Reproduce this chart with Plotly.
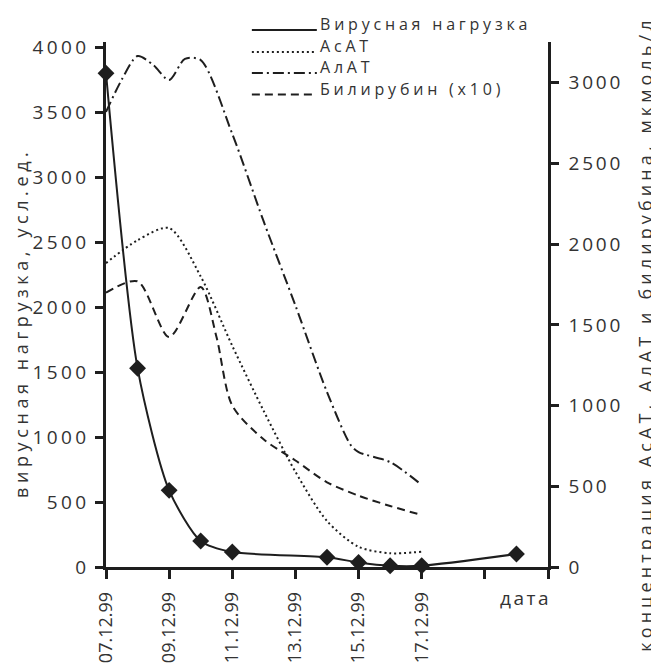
import plotly.graph_objects as go

# ---------------- data ----------------
virus_dates = ["1999-12-07", "1999-12-08", "1999-12-09", "1999-12-10", "1999-12-11",
               "1999-12-14", "1999-12-15", "1999-12-16", "1999-12-17", "1999-12-20"]
virus_load = [3800, 1530, 590, 200, 115, 75, 35, 10, 10, 100]

asat_dates = ["1999-12-07", "1999-12-08", "1999-12-09", "1999-12-10", "1999-12-11", "1999-12-12",
              "1999-12-13", "1999-12-14", "1999-12-15", "1999-12-16", "1999-12-17"]
asat = [1883, 2025, 2100, 1800, 1370, 965, 590, 285, 125, 85, 95]

alat_dates = ["1999-12-07", "1999-12-07 12:00", "1999-12-08", "1999-12-08 12:00", "1999-12-09",
              "1999-12-09 12:00", "1999-12-10", "1999-12-11", "1999-12-12", "1999-12-13",
              "1999-12-14", "1999-12-14 18:00", "1999-12-15", "1999-12-16", "1999-12-17"]
alat = [2820, 3020, 3166, 3110, 3017, 3148, 3141, 2683, 2138, 1620, 1084, 756, 712, 650, 508]

bili_dates = ["1999-12-07", "1999-12-08", "1999-12-09", "1999-12-10", "1999-12-10 12:00",
              "1999-12-11", "1999-12-12", "1999-12-13", "1999-12-14", "1999-12-15",
              "1999-12-16", "1999-12-17"]
bili_x10 = [1700, 1770, 1425, 1735, 1425, 1000, 790, 660, 525, 442, 378, 322]

series_names = ["Вирусная нагрузка", "АсАТ", "АлАТ", "Билирубин (x10)"]

left_ticks = [0, 500, 1000, 1500, 2000, 2500, 3000, 3500, 4000]
right_ticks = [0, 500, 1000, 1500, 2000, 2500, 3000]
date_ticks = ["1999-12-07", "1999-12-09", "1999-12-11", "1999-12-13",
              "1999-12-15", "1999-12-17", "1999-12-19", "1999-12-21"]
date_labels = ["07.12.99", "09.12.99", "11.12.99", "13.12.99", "15.12.99", "17.12.99", "", ""]

left_title = "вирусная нагрузка, усл.ед."
right_title = "концентрация АсАТ, АлАТ и билирубина, мкмоль/л"
x_title = "дата"

# ---------------- styles ----------------
INK = "#1e1e1e"
TXT = "#333333"
FONT = "Open Sans"
DOT = "2px,3px"
DASH = "8px,5px"
DASHDOT = "11px,4px,2px,4px"


def ls(text, px):
    return f'<span style="letter-spacing:{px}px">{text}</span>'


fig = go.Figure()

fig.add_trace(go.Scatter(x=alat_dates, y=alat, yaxis="y2", mode="lines",
                         line=dict(color=INK, width=2, dash=DASHDOT, shape="spline", smoothing=0.8),
                         name=series_names[2], showlegend=False))
fig.add_trace(go.Scatter(x=asat_dates, y=asat, yaxis="y2", mode="lines",
                         line=dict(color=INK, width=2, dash=DOT, shape="spline", smoothing=0.8),
                         name=series_names[1], showlegend=False))
fig.add_trace(go.Scatter(x=bili_dates, y=bili_x10, yaxis="y2", mode="lines",
                         line=dict(color=INK, width=2, dash=DASH, shape="spline", smoothing=0.8),
                         name=series_names[3], showlegend=False))
fig.add_trace(go.Scatter(x=virus_dates, y=virus_load, mode="lines+markers",
                         line=dict(color=INK, width=2, shape="spline", smoothing=0.7),
                         marker=dict(symbol="diamond", size=13, color=INK),
                         cliponaxis=False, name=series_names[0], showlegend=False))

# ---------------- manual legend ----------------
leg_rows = [1.0229, 0.9810, 0.9410, 0.9000]
leg_dash = ["solid", DOT, DASHDOT, DASH]
for name, yy, dsh in zip(series_names, leg_rows, leg_dash):
    fig.add_shape(type="line", xref="paper", yref="paper", x0=0.330, x1=0.477, y0=yy, y1=yy,
                  line=dict(color=INK, width=2, dash=dsh))
    fig.add_annotation(xref="paper", yref="paper", x=0.481, y=yy + 0.0105, xanchor="left",
                       yanchor="middle", text=ls(name, 3.8), showarrow=False, borderpad=0,
                       font=dict(family=FONT, size=16, color=TXT))

# ---------------- titles ----------------
fig.add_annotation(xref="paper", yref="paper", x=-0.192, y=0.465, xanchor="center", yanchor="middle",
                   textangle=-90, text=ls(left_title, 4.6), showarrow=False, borderpad=0,
                   font=dict(family=FONT, size=18, color=TXT))
fig.add_annotation(xref="paper", yref="paper", x=1.219, y=0.444, xanchor="center", yanchor="middle",
                   textangle=-90, text=ls(right_title, 4.1), showarrow=False, borderpad=0,
                   font=dict(family=FONT, size=18, color=TXT))
fig.add_annotation(xref="paper", yref="paper", x=0.948, y=-0.059, xanchor="center", yanchor="middle",
                   text=ls(x_title, 2.5), showarrow=False, borderpad=0,
                   font=dict(family=FONT, size=19, color=TXT))

# page body has an 8px margin: size the figure so the plot area lands where the reference has it
fig.update_layout(
    width=651, height=661, autosize=False,
    margin=dict(l=98, r=111, t=34, b=102, pad=0),
    plot_bgcolor="white", paper_bgcolor="white",
    showlegend=False,
    font=dict(family=FONT, size=18, color=TXT),
    xaxis=dict(type="date", range=["1999-12-07", "1999-12-21"], automargin=False,
               tickvals=date_ticks, ticktext=date_labels, tickangle=-90,
               ticks="outside", ticklen=9, tickwidth=2.5, tickcolor=INK,
               showline=True, linewidth=2.5, linecolor=INK, showgrid=False, zeroline=False,
               ticklabelstandoff=6, tickfont=dict(family=FONT, size=18, color=TXT)),
    yaxis=dict(range=[0, 4040], tickvals=left_ticks, automargin=False,
               ticktext=[ls(str(v), 3.4) for v in left_ticks],
               ticks="outside", ticklen=8, tickwidth=2.5, tickcolor=INK,
               showline=True, linewidth=2.5, linecolor=INK, showgrid=False, zeroline=False,
               ticklabelstandoff=2, tickfont=dict(family=FONT, size=19, color=TXT)),
    yaxis2=dict(range=[0, 3253], tickvals=right_ticks, automargin=False,
                ticktext=[ls(str(v), 2.8) for v in right_ticks],
                overlaying="y", side="right",
                ticks="outside", ticklen=8, tickwidth=2.5, tickcolor=INK,
                showline=True, linewidth=2.5, linecolor=INK, showgrid=False, zeroline=False,
                ticklabelstandoff=6, tickfont=dict(family=FONT, size=19, color=TXT)),
)

fig.write_html("out.html")
